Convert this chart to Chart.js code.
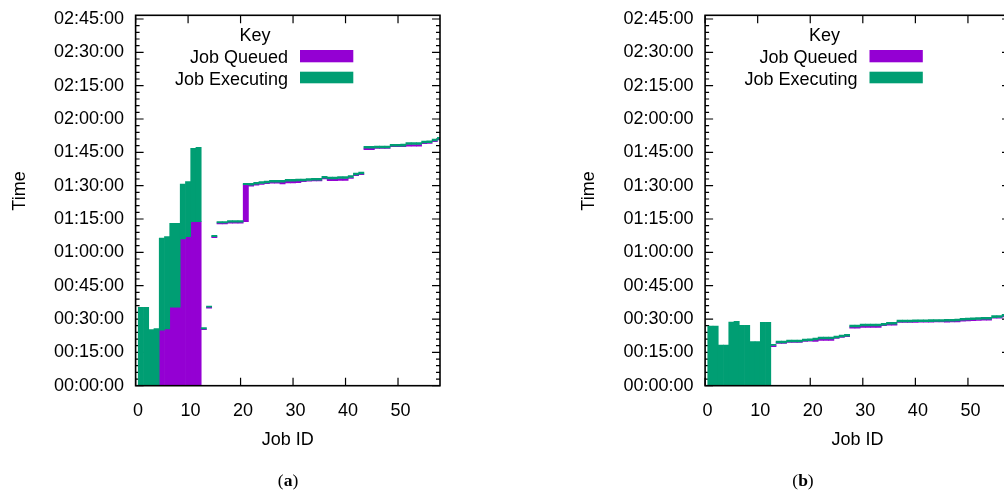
<!DOCTYPE html>
<html><head><meta charset="utf-8">
<script src="https://cdn.jsdelivr.net/npm/chart.js@4.4.0/dist/chart.umd.min.js"></script>
<style>
html,body{margin:0;padding:0;background:#fff;width:1004px;height:493px;overflow:hidden;position:relative;}
.wrap{position:absolute;top:0;width:470px;height:493px;}
#wa{left:0px}
#wb{left:570px}
.cap{position:absolute;top:470px;font-family:"Liberation Serif","DejaVu Serif",serif;font-size:17.5px;color:#000;transform:translateX(-50%);white-space:nowrap;}
</style></head><body>
<div class="wrap" id="wa"><canvas id="ca" width="470" height="493"></canvas></div>
<div class="wrap" id="wb"><canvas id="cb" width="470" height="493"></canvas></div>
<div class="cap" style="left:288px">(<b>a</b>)</div>
<div class="cap" style="left:803px">(<b>b</b>)</div>
<script>
// ---- data (times in seconds) ----
const jobIds = [1,2,3,4,5,6,7,8,9,10,11,12,13,14,15,16,17,18,19,20,21,22,23,24,25,26,27,28,29,30,31,32,33,34,35,36,37,38,39,40,41,42,43,44,45,46,47,48,49,50,51,52,53,54,55,56,57,58];

const aSubmit = [0,0,0,0,0,0,0,0,0,0,0,0,
  1512,2090,3996,4366,4366,4385,4385,4385,4428,
  5390,5417,5433,5452,5471,5471,5446,5473,5473,5481,5511,5519,5530,5530,5584,5535,5535,5543,5543,5595,5668,5695,
  6374,6374,6403,6405,6407,6453,6453,6455,6466,6466,6468,6537,6540,6591,6637];
const aStart = [0,0,0,0,1500,1531,2117,2117,3961,4023,4428,4428,
  1531,2117,4023,4395,4395,4415,4415,4415,5427,
  5415,5442,5458,5477,5496,5496,5496,5523,5523,5531,5531,5539,5550,5550,5604,5585,5585,5593,5593,5620,5693,5720,
  6414,6414,6418,6420,6422,6468,6468,6470,6511,6511,6513,6557,6560,6611,6657];
const aEnd = [2117,2117,1512,1539,3988,4023,4385,4385,5446,5508,6410,6437,
  1566,2152,4061,4428,4428,4455,4455,4455,5465,
  5465,5492,5508,5527,5546,5546,5546,5573,5573,5581,5581,5589,5600,5600,5654,5635,5635,5643,5643,5670,5743,5770,
  6464,6464,6468,6470,6472,6518,6518,6520,6561,6561,6563,6607,6610,6661,6707];

const bSubmit = [0,0,0,0,0,0,0,0,0,0,0,0,
  1053,
  1142,1142,1169,1169,1169,1196,1200,1198,1225,1225,1225,1277,1304,1323,
  1554,1554,1576,1576,1576,1576,1620,1632,1632,1709,1709,1709,1711,1713,1715,1717,1720,1723,1718,1720,1725,1745,1750,1755,1763,1768,1772,1820,1822,1858,1880];
const bStart = [0,0,0,0,0,0,0,0,0,0,0,0,
  1085,
  1157,1157,1184,1184,1184,1211,1215,1238,1265,1265,1265,1292,1319,1338,
  1589,1589,1616,1616,1616,1616,1635,1662,1662,1724,1724,1724,1726,1728,1730,1732,1735,1738,1743,1745,1750,1770,1775,1780,1788,1793,1797,1840,1842,1878,1900];
const bEnd = [1612,1612,1099,1099,1720,1739,1631,1631,1188,1188,1712,1712,
  1118,
  1207,1207,1234,1234,1234,1261,1265,1288,1315,1315,1315,1342,1369,1388,
  1639,1639,1666,1666,1666,1666,1685,1712,1712,1774,1774,1774,1776,1778,1780,1782,1785,1788,1793,1795,1800,1820,1825,1830,1838,1843,1847,1890,1892,1928,1950];

const yTickLabels = ['00:00:00','00:15:00','00:30:00','00:45:00','01:00:00','01:15:00','01:30:00','01:45:00','02:00:00','02:15:00','02:30:00','02:45:00'];
const xTickLabels = ['0','10','20','30','40','50'];
const seriesNames = ['Job Queued','Job Executing'];

// ---- styling ----
const FONT = "'Liberation Sans', Arial, sans-serif";
const QUEUED = '#9400d3';
const EXEC = '#009e73';
const Y_MAX = 10000, X_MAX = 58;

const toSec = s => { const p = s.split(':').map(Number); return p[0]*3600 + p[1]*60 + p[2]; };
const yTickValues = yTickLabels.map(toSec);
const xTickValues = xTickLabels.map(Number);

function makeDatasets(sub, st, en) {
  const common = {grouped:false, barPercentage:1, categoryPercentage:1, borderWidth:0};
  return [
    Object.assign({label: seriesNames[0], backgroundColor: QUEUED, order: 1,
      data: jobIds.map((id,i) => ({x:id, y: st[i] > sub[i] ? [sub[i], st[i]] : null}))}, common),
    Object.assign({label: seriesNames[1], backgroundColor: EXEC, order: 0,
      data: jobIds.map((id,i) => ({x:id, y: [st[i], en[i]]}))}, common)
  ];
}

const framePlugin = {
  id: 'gnuframe',
  beforeDatasetsDraw(chart) {
    const {ctx, chartArea: a, scales: {x, y}} = chart;
    ctx.save();
    ctx.strokeStyle = '#000'; ctx.lineWidth = 1.2;
    ctx.beginPath();
    for (let v = 0; v <= Y_MAX; v += 180) {
      const p = y.getPixelForValue(v);
      const len = (v % 900 === 0) ? 8 : 4;
      ctx.moveTo(a.left, p); ctx.lineTo(a.left + len, p);
      ctx.moveTo(a.right, p); ctx.lineTo(a.right - len, p);
    }
    for (const v of xTickValues) {
      const p = x.getPixelForValue(v);
      ctx.moveTo(p, a.bottom); ctx.lineTo(p, a.bottom - 8);
      ctx.moveTo(p, a.top); ctx.lineTo(p, a.top + 8);
    }
    ctx.stroke();
    ctx.restore();
  },
  afterDatasetsDraw(chart) {
    const {ctx, chartArea: a} = chart;
    ctx.save();
    ctx.strokeStyle = '#000'; ctx.lineWidth = 1.6;
    ctx.strokeRect(a.left, a.top, a.right - a.left, a.bottom - a.top);
    // key
    const L = a.left;
    ctx.fillStyle = '#000';
    ctx.font = '18px ' + FONT;
    ctx.textBaseline = 'alphabetic';
    ctx.textAlign = 'center';
    ctx.fillText('Key', L + 119.4, 41);
    ctx.textAlign = 'right';
    ctx.fillText(seriesNames[0], L + 152.4, 63);
    ctx.fillText(seriesNames[1], L + 152.4, 84.5);
    ctx.fillStyle = QUEUED;
    ctx.fillRect(L + 164.4, 50, 53.3, 12.3);
    ctx.fillStyle = EXEC;
    ctx.fillRect(L + 164.4, 71.7, 53.3, 11.6);
    // y title
    ctx.fillStyle = '#000';
    ctx.translate(a.left - 115.6, 191);
    ctx.rotate(-Math.PI/2);
    ctx.textAlign = 'center';
    ctx.textBaseline = 'middle';
    ctx.fillText('Time', 0, 0);
    ctx.restore();
  }
};

function makeChart(id, sub, st, en, yWidth) {
  return new Chart(document.getElementById(id), {
    type: 'bar',
    data: {datasets: makeDatasets(sub, st, en)},
    plugins: [framePlugin],
    options: {
      responsive: false,
      animation: false,
      layout: {padding: {left: 0, top: 15.3, right: 30, bottom: 0}},
      plugins: {legend: {display: false}, tooltip: {enabled: false}},
      scales: {
        x: {
          type: 'linear', min: 0, max: X_MAX, offset: false,
          grid: {display: false, drawTicks: false, offset: false},
          border: {display: false},
          ticks: {autoSkip: false, maxRotation: 0, padding: 15, labelOffset: 2.5, color: '#000',
                  font: {family: FONT, size: 18},
                  callback: v => xTickLabels[xTickValues.indexOf(v)]},
          afterBuildTicks: s => { s.ticks = xTickValues.map(v => ({value: v})); },
          afterFit: s => { s.height = 107.3; s.paddingLeft = 0; s.paddingRight = 0; s.paddingTop = 0; s.paddingBottom = 0; },
          title: {display: true, text: 'Job ID', color: '#000', font: {family: FONT, size: 18},
                  padding: {top: 0, bottom: 42}}
        },
        y: {
          type: 'linear', min: 0, max: Y_MAX,
          grid: {display: false, drawTicks: false},
          border: {display: false},
          ticks: {autoSkip: false, padding: 11.6, color: '#000',
                  font: {family: FONT, size: 18},
                  callback: v => yTickLabels[yTickValues.indexOf(v)]},
          afterBuildTicks: s => { s.ticks = yTickValues.map(v => ({value: v})); },
          afterFit: s => { s.width = yWidth; s.paddingLeft = 0; s.paddingRight = 0; s.paddingTop = 0; s.paddingBottom = 0; }
        }
      }
    }
  });
}

makeChart('ca', aSubmit, aStart, aEnd, 135.6);
makeChart('cb', bSubmit, bStart, bEnd, 135.1);
</script>
</body></html>
